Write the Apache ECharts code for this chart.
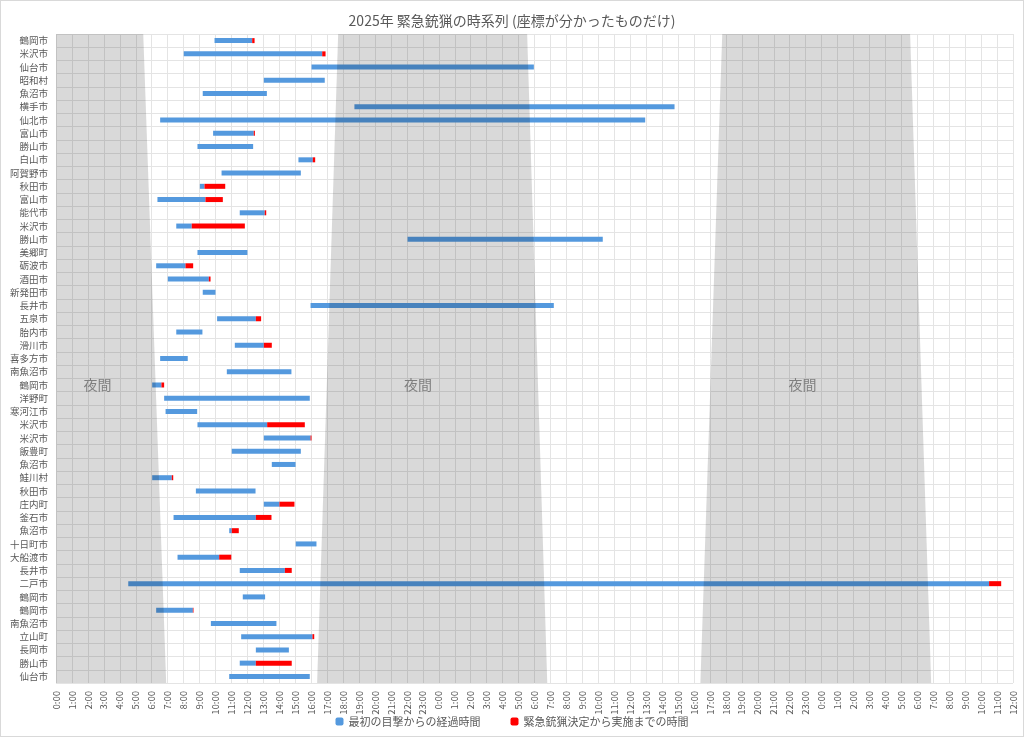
<!DOCTYPE html>
<html lang="ja">
<head>
<meta charset="UTF-8">
<title>緊急銃猟の時系列</title>
<script src="https://cdn.jsdelivr.net/npm/echarts@6/dist/echarts.min.js"></script>
<style>
  html, body { margin: 0; padding: 0; background: #fff; }
  #main { width: 1024px; height: 737px; box-sizing: border-box; border: 1px solid #d9d9d9; }
</style>
</head>
<body>
<div id="main"></div>
<script>
// 市町村（上から順）
var places = ['鶴岡市','米沢市','仙台市','昭和村','魚沼市','横手市','仙北市','富山市','勝山市','白山市',
  '阿賀野市','秋田市','富山市','能代市','米沢市','勝山市','美郷町','砺波市','酒田市','新発田市',
  '長井市','五泉市','胎内市','滑川市','喜多方市','南魚沼市','鶴岡市','洋野町','寒河江市','米沢市',
  '米沢市','飯豊町','魚沼市','鮭川村','秋田市','庄内町','釜石市','魚沼市','十日町市','大船渡市',
  '長井市','二戸市','鶴岡市','鶴岡市','南魚沼市','立山町','長岡市','勝山市','仙台市'];
// 時刻は 0:00 起点の経過時間（h）
var firstSeen = [9.94,8.01,16.02,13.03,9.2,18.71,6.53,9.85,8.87,15.2,
  10.38,9.02,6.36,11.52,7.54,22.04,8.87,6.28,7.01,9.2,
  15.96,10.1,7.54,11.21,6.53,10.71,6.03,6.78,6.87,8.87,
  13.03,11.02,13.53,6.03,8.77,13.03,7.37,10.86,15.03,7.62,
  11.52,4.53,11.71,6.28,9.71,11.61,12.53,11.52,10.86];
var decided = [12.3,16.69,29.96,16.85,13.22,38.78,36.94,12.4,12.36,16.1,
  15.35,9.31,9.37,13.09,8.51,34.28,12.0,8.12,9.58,10.0,
  31.21,12.53,9.18,13.03,8.26,14.76,6.61,15.91,8.85,13.24,
  15.96,15.35,15.02,7.26,12.51,14.01,12.53,11.02,16.33,10.23,
  14.35,58.5,13.11,8.58,13.82,16.08,14.6,12.53,15.91];
var executed = [12.45,16.9,29.96,16.85,13.22,38.78,36.94,12.47,12.36,16.25,
  15.35,10.61,10.46,13.18,11.84,34.28,12.0,8.6,9.69,10.0,
  31.21,12.86,9.18,13.53,8.26,14.76,6.78,15.91,8.85,15.6,
  16.02,15.35,15.02,7.35,12.51,14.95,13.51,11.46,16.33,10.99,
  14.78,59.26,13.11,8.62,13.82,16.19,14.6,14.78,15.91];
// 夜間帯: [上端開始, 下端開始, 上端終了, 下端終了]
var nights = [
  [0, 0, 5.47, 6.91],
  [17.69, 16.37, 29.54, 30.8],
  [41.77, 40.4, 53.55, 54.87]
];
var nightLabelX = [2.6, 22.7, 46.8];
var nightLabelRow = 26;

var blueDur = [], redDur = [];
for (var i = 0; i < places.length; i++) {
  blueDur.push(+(decided[i] - firstSeen[i]).toFixed(3));
  redDur.push(+(executed[i] - decided[i]).toFixed(3));
}
var nightData = nights.map(function (n, i) { return n.concat([nightLabelX[i]]); });

var font = 'Noto Sans CJK JP';
var myChart = echarts.init(document.getElementById('main'));
var option = {
  textStyle: { fontFamily: font },
  title: {
    text: '2025年 緊急銃猟の時系列 (座標が分かったものだけ)',
    left: 'center', top: 8,
    textStyle: { fontSize: 14, fontWeight: 'normal', color: '#595959', fontFamily: font }
  },
  legend: {
    bottom: 4, itemWidth: 8, itemHeight: 8, itemGap: 30,
    textStyle: { fontSize: 11, color: '#595959' },
    data: ['最初の目撃からの経過時間', '緊急銃猟決定から実施までの時間']
  },
  grid: { left: 55, right: 10, top: 33, bottom: 53 },
  xAxis: {
    type: 'value', min: 0, max: 60, interval: 1,
    axisLine: { show: false }, axisTick: { show: false },
    axisLabel: {
      rotate: 90, fontSize: 9.5, color: '#595959',
      formatter: function (v) { return (v % 24) + ':00'; }
    },
    splitLine: { lineStyle: { color: '#e4e4e4' } }
  },
  yAxis: {
    type: 'category', inverse: true, data: places,
    axisLine: { show: false }, axisTick: { show: false },
    axisLabel: { fontSize: 9.5, color: '#595959' },
    splitLine: { show: true, interval: 0, lineStyle: { color: '#e4e4e4' } }
  },
  series: [
    {
      name: 'offset', type: 'bar', stack: 't', silent: true,
      itemStyle: { color: 'transparent' }, data: firstSeen
    },
    {
      name: '最初の目撃からの経過時間', type: 'bar', stack: 't', barWidth: 5,
      itemStyle: { color: '#5499de' }, data: blueDur
    },
    {
      name: '緊急銃猟決定から実施までの時間', type: 'bar', stack: 't', barWidth: 5,
      itemStyle: { color: '#ff0000' }, data: redDur
    },
    {
      type: 'custom', silent: true, z: 10,
      data: nightData,
      encode: { x: [0, 1, 2, 3] },
      renderItem: function (params, api) {
        var cs = params.coordSys;
        var top = cs.y, bottom = cs.y + cs.height;
        var x = function (v) { return api.coord([v, 0])[0]; };
        var lp = api.coord([api.value(4), nightLabelRow]);
        return {
          type: 'group',
          children: [
            {
              type: 'polygon',
              shape: { points: [[x(api.value(0)), top], [x(api.value(2)), top],
                                [x(api.value(3)), bottom], [x(api.value(1)), bottom]] },
              style: { fill: 'rgba(0,0,0,0.15)' }
            },
            {
              type: 'text', x: lp[0], y: lp[1],
              style: { text: '夜間', fill: '#7f7f7f', font: '14px "' + font + '"',
                       align: 'center', verticalAlign: 'middle' }
            }
          ]
        };
      }
    }
  ]
};
myChart.setOption(option);
</script>
</body>
</html>
